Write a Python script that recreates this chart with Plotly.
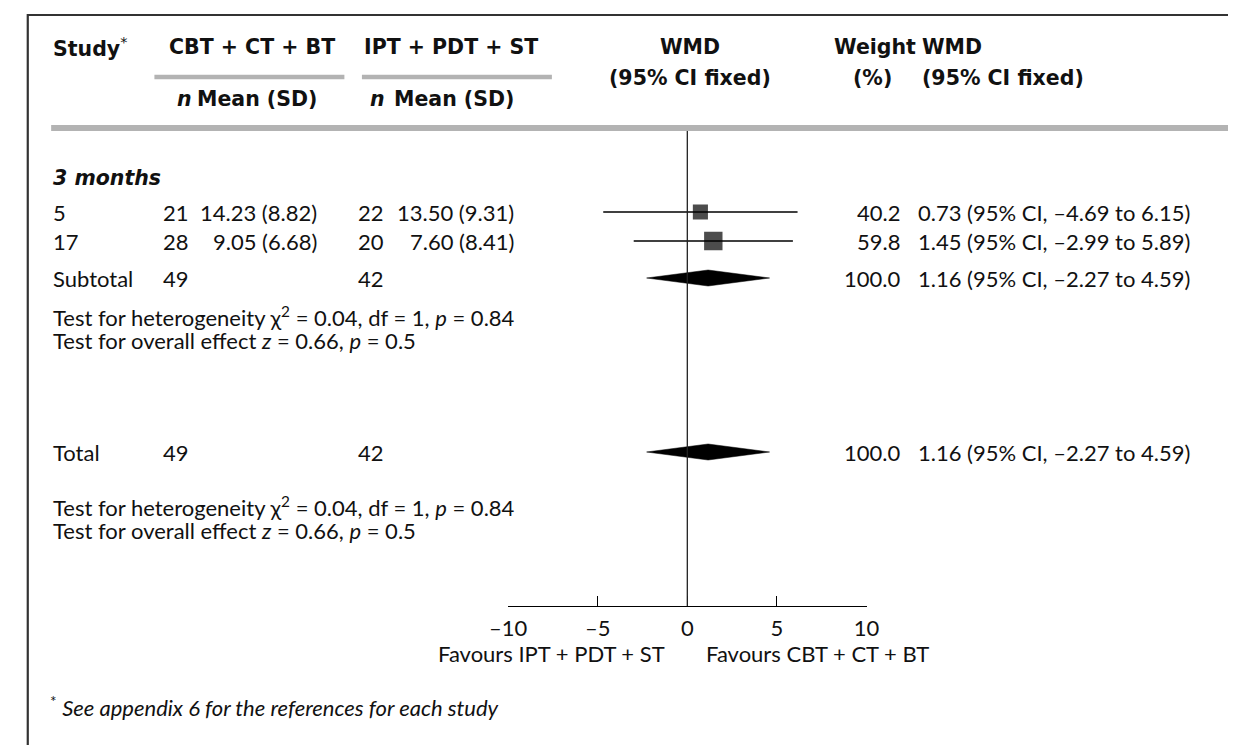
import plotly.graph_objects as go

# ---------------- data ----------------
studies = ["5", "17"]
n_cbt = [21, 28]
mean_cbt = [14.23, 9.05]
sd_cbt = [8.82, 6.68]
n_ipt = [22, 20]
mean_ipt = [13.50, 7.60]
sd_ipt = [9.31, 8.41]
weights = [40.2, 59.8]
wmd = [0.73, 1.45]
ci_low = [-4.69, -2.99]
ci_high = [6.15, 5.89]

sub_n_cbt, sub_n_ipt = 49, 42
sub_weight, sub_wmd, sub_low, sub_high = 100.0, 1.16, -2.27, 4.59
tot_n_cbt, tot_n_ipt = 49, 42
tot_weight, tot_wmd, tot_low, tot_high = 100.0, 1.16, -2.27, 4.59

het_chi2, het_df, het_p = 0.04, 1, 0.84
eff_z, eff_p = 0.66, 0.5

x_ticks = [-10, -5, 0, 5, 10]
x_tick_labels = ["\u201310", "\u20135", "0", "5", "10"]

# ---------------- layout constants (pixels) ----------------
W, H = 1241, 745
FONT = "Lato, 'Open Sans', sans-serif"
BFONT = "'DejaVu Sans', Lato, sans-serif"
FS = 22
FB = 20.5
AXIS_Y = 606
X_LEFT, X_RIGHT = 502, 870

COL_STUDY = 33
COL_N1 = 146
COL_M1 = 308
COL_N2 = 346
COL_M2 = 510
COL_T = 921
COL_W = 906

Y_H1, Y_H2, Y_H3 = 47, 78, 99
Y_SUB_LINE, Y_HEAD_LINE = 77, 128
Y_GROUP = 178
Y_ROWS = [212, 241]
Y_SUB = 278
Y_TEST1 = [316, 340]
Y_TOT = 452
Y_TEST2 = [506, 530]
Y_FAV = 653
Y_FOOT = 706

fig = go.Figure()
ann = []


def A(x, y, text, anchor="left", size=FS, family=FONT, color="#111"):
    ann.append(dict(x=x / W, xref="paper", y=y, yref="y", text=text,
                    xanchor=anchor, yanchor="middle", showarrow=False,
                    font=dict(family=family, size=size, color=color)))


def B(x, y, text, anchor="left"):
    A(x, y, "<b>" + text + "</b>", anchor, size=FB, family=BFONT)


def ci_text(m, lo, hi):
    f = lambda v: ("\u2013" if v < 0 else "") + f"{abs(v):.2f}"
    return f"{m:.2f} (95% CI, {f(lo)} to {f(hi)})"


# header texts
A(COL_STUDY, Y_H1, "<b>Study</b><sup>*</sup>", size=FB, family=BFONT)
B(152, Y_H1, "CBT + CT + BT")
B(352, Y_H1, "IPT + PDT + ST")
B(160, Y_H3, "<i>n</i>")
B(COL_M1, Y_H3, "Mean (SD)", "right")
B(358, Y_H3, "<i>n</i>")
B(COL_M2, Y_H3, "Mean (SD)", "right")
B(689, Y_H1, "WMD", "center")
B(689, Y_H2, "(95% CI fixed)", "center")
B(COL_T + 2, Y_H1, "Weight", "right")
B(COL_T + 4, Y_H1, "WMD")
B(COL_W - 8, Y_H2, "(%)", "right")
B(COL_T + 4, Y_H2, "(95% CI fixed)")

# group
A(COL_STUDY, Y_GROUP, "<b><i>3 months</i></b>", size=FB, family=BFONT)

for i, s in enumerate(studies):
    y = Y_ROWS[i]
    A(COL_STUDY, y, s)
    A(COL_N1, y, str(n_cbt[i]))
    A(COL_M1, y, f"{mean_cbt[i]:.2f} ({sd_cbt[i]:.2f})", "right")
    A(COL_N2, y, str(n_ipt[i]))
    A(COL_M2, y, f"{mean_ipt[i]:.2f} ({sd_ipt[i]:.2f})", "right")
    A(COL_W, y, f"{weights[i]:.1f}", "right")
    A(COL_T, y, ci_text(wmd[i], ci_low[i], ci_high[i]))

A(COL_STUDY, Y_SUB, "Subtotal")
A(COL_N1, Y_SUB, str(sub_n_cbt))
A(COL_N2, Y_SUB, str(sub_n_ipt))
A(COL_W, Y_SUB, f"{sub_weight:.1f}", "right")
A(COL_T, Y_SUB, ci_text(sub_wmd, sub_low, sub_high))

het_txt = (f"Test for heterogeneity \u03c7<sup>2</sup> = {het_chi2:.2f}, df = {het_df}, "
           f"<i>p</i> = {het_p:.2f}")
eff_txt = f"Test for overall effect <i>z</i> = {eff_z:.2f}, <i>p</i> = {eff_p}"
A(COL_STUDY, Y_TEST1[0], het_txt)
A(COL_STUDY, Y_TEST1[1], eff_txt)

A(COL_STUDY, Y_TOT, "Total")
A(COL_N1, Y_TOT, str(tot_n_cbt))
A(COL_N2, Y_TOT, str(tot_n_ipt))
A(COL_W, Y_TOT, f"{tot_weight:.1f}", "right")
A(COL_T, Y_TOT, ci_text(tot_wmd, tot_low, tot_high))

A(COL_STUDY, Y_TEST2[0], het_txt)
A(COL_STUDY, Y_TEST2[1], eff_txt)

A(665, Y_FAV, "Favours IPT + PDT + ST", "right")
A(703, Y_FAV, "Favours CBT + CT + BT")

A(30, Y_FOOT, "<sup>*</sup> <i>See appendix 6 for the references for each study</i>")

# ---------------- marks ----------------
for i in range(len(studies)):
    fig.add_trace(go.Scatter(x=[ci_low[i], ci_high[i]], y=[Y_ROWS[i], Y_ROWS[i]],
                             mode="lines", line=dict(color="black", width=1.3),
                             hoverinfo="skip", showlegend=False))
fig.add_trace(go.Scatter(x=wmd, y=Y_ROWS, mode="markers",
                         marker=dict(symbol="square", color="black",
                                     size=[2.38 * w ** 0.5 for w in weights],
                                     line=dict(width=0)),
                         hoverinfo="skip", showlegend=False))
DH = 8
for (m, lo, hi, y) in [(sub_wmd, sub_low, sub_high, Y_SUB), (tot_wmd, tot_low, tot_high, Y_TOT)]:
    fig.add_trace(go.Scatter(x=[lo, m, hi, m, lo], y=[y, y - DH, y, y + DH, y],
                             mode="lines", fill="toself", fillcolor="black",
                             line=dict(color="black", width=0.5),
                             hoverinfo="skip", showlegend=False))

GRAY = "#b3b3b3"
shapes = [
    dict(type="line", xref="paper", yref="y", x0=9 / W, x1=1, y0=15, y1=15,
         line=dict(color="#333", width=2.2)),
    dict(type="line", xref="paper", yref="y", x0=9 / W, x1=9 / W, y0=14, y1=H,
         line=dict(color="#333", width=2.2)),
    dict(type="line", xref="paper", yref="y", x0=139 / W, x1=334 / W, y0=Y_SUB_LINE, y1=Y_SUB_LINE,
         line=dict(color=GRAY, width=4.5)),
    dict(type="line", xref="paper", yref="y", x0=352 / W, x1=547 / W, y0=Y_SUB_LINE, y1=Y_SUB_LINE,
         line=dict(color=GRAY, width=4.5)),
    dict(type="line", xref="paper", yref="y", x0=33 / W, x1=1, y0=Y_HEAD_LINE, y1=Y_HEAD_LINE,
         line=dict(color=GRAY, width=6)),
    dict(type="line", xref="x", yref="y", x0=0, x1=0, y0=131, y1=AXIS_Y,
         line=dict(color="#222", width=1.3)),
]

fig.update_layout(
    width=W, height=H, margin=dict(l=0, r=0, t=0, b=0),
    paper_bgcolor="white", plot_bgcolor="rgba(0,0,0,0)",
    showlegend=False, annotations=ann, shapes=shapes,
    xaxis=dict(domain=[X_LEFT / W, X_RIGHT / W], range=[-10, 10], anchor="free",
               position=1 - AXIS_Y / H, showline=True, linecolor="black", linewidth=1.2,
               ticks="inside", ticklen=10, tickwidth=1.2, tickcolor="black",
               tickvals=x_ticks, ticktext=x_tick_labels, ticklabelstandoff=2,
               tickfont=dict(family=FONT, size=FS, color="#111"),
               showgrid=False, zeroline=False, fixedrange=True),
    yaxis=dict(domain=[0, 1], range=[H, 0], visible=False, fixedrange=True),
)

fig.write_html("out.html")
